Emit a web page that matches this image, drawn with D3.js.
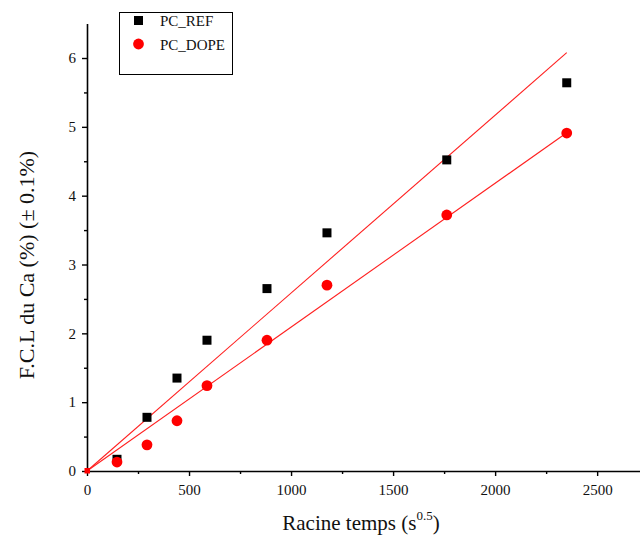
<!DOCTYPE html>
<html><head><meta charset="utf-8">
<script src="https://cdn.jsdelivr.net/npm/d3@7"></script>
<style>html,body{margin:0;padding:0;background:#fff;}svg, svg text{font-family:"Liberation Serif","Times New Roman",serif !important;}</style>
</head><body>
<script>
const xValues = [147, 294, 441, 588, 882, 1176, 1763, 2351];
const refValues = [0.17, 0.78, 1.35, 1.90, 2.65, 3.46, 4.52, 5.64];
const dopeValues = [0.13, 0.38, 0.73, 1.24, 1.90, 2.70, 3.72, 4.91];
const seriesNames = ["PC_REF", "PC_DOPE"];
const fitSlopes = [0.002585, 0.00209];
const xTicks = [0, 500, 1000, 1500, 2000, 2500];
const yTicks = [0, 1, 2, 3, 4, 5, 6];

const W = 640, H = 540;
const svg = d3.select("body").append("svg").attr("width", W).attr("height", H);
const x = d3.scaleLinear().domain([0, 2710]).range([87, 640]);
const y = d3.scaleLinear().domain([0, 6.5]).range([471, 23.6]);

// axes
svg.append("g").attr("transform", "translate(0,471)")
  .call(d3.axisBottom(x).tickValues(xTicks).tickFormat(d3.format("d")).tickSize(5).tickSizeOuter(0).tickPadding(8));
svg.append("g").attr("transform", "translate(0,471)")
  .call(d3.axisBottom(x).tickValues(d3.range(250, 2710, 500)).tickSize(3).tickFormat("")).select(".domain").remove();
svg.append("g").attr("transform", "translate(87,0)")
  .call(d3.axisLeft(y).tickValues(yTicks).tickFormat(d3.format("d")).tickSize(5).tickSizeOuter(0).tickPadding(6));
svg.append("g").attr("transform", "translate(87,0)")
  .call(d3.axisLeft(y).tickValues(d3.range(0.5, 6.5, 1)).tickSize(3).tickFormat("")).select(".domain").remove();
svg.selectAll("g").attr("font-family", null);
svg.selectAll(".domain").attr("stroke-width", 1.6).attr("stroke", "#000");
svg.selectAll(".tick line").attr("stroke-width", 1.4).attr("stroke", "#000");
svg.selectAll(".tick text").attr("font-size", 15).attr("fill", "#111");

// fit lines
fitSlopes.forEach(s => {
  svg.append("line")
    .attr("x1", x(0)).attr("y1", y(0))
    .attr("x2", x(xValues[xValues.length - 1])).attr("y2", y(s * xValues[xValues.length - 1]))
    .attr("stroke", "#ff2020").attr("stroke-width", 1.1);
});

// REF squares
svg.append("g").selectAll("rect").data(xValues).join("rect")
  .attr("x", (d) => x(d) - 4.5).attr("y", (d, i) => y(refValues[i]) - 4.5)
  .attr("width", 9).attr("height", 9).attr("fill", "#000");
// DOPE circles
svg.append("g").selectAll("circle").data(xValues).join("circle")
  .attr("cx", d => x(d)).attr("cy", (d, i) => y(dopeValues[i])).attr("r", 5.4).attr("fill", "#ff0000");
// origin marker
svg.append("rect").attr("x", x(0) - 2.5).attr("y", y(0) - 3).attr("width", 5.5).attr("height", 5.5).attr("fill", "#ff0000");

// legend
svg.append("rect").attr("x", 119.5).attr("y", 12.5).attr("width", 113).attr("height", 62)
  .attr("fill", "none").attr("stroke", "#000").attr("stroke-width", 1);
svg.append("rect").attr("x", 134).attr("y", 16).attr("width", 9).attr("height", 9).attr("fill", "#000");
svg.append("circle").attr("cx", 138.5).attr("cy", 44).attr("r", 5.4).attr("fill", "#ff0000");
svg.append("text").attr("x", 160).attr("y", 25.5).attr("font-size", 15).attr("fill", "#111").text(seriesNames[0]);
svg.append("text").attr("x", 160).attr("y", 49.5).attr("font-size", 15).attr("fill", "#111").text(seriesNames[1]);

// axis titles
const xt = svg.append("text").attr("x", 361).attr("y", 530).attr("text-anchor", "middle").attr("font-size", 21).attr("fill", "#111");
xt.append("tspan").text("Racine temps (s");
xt.append("tspan").attr("font-size", 13).attr("dy", -10).text("0.5");
xt.append("tspan").attr("dy", 10).text(")");
svg.append("text").attr("transform", "translate(34,265) rotate(-90)").attr("text-anchor", "middle")
  .attr("font-size", 22).attr("fill", "#111").text("F.C.L du Ca (%) (± 0.1%)");
</script>
</body></html>
